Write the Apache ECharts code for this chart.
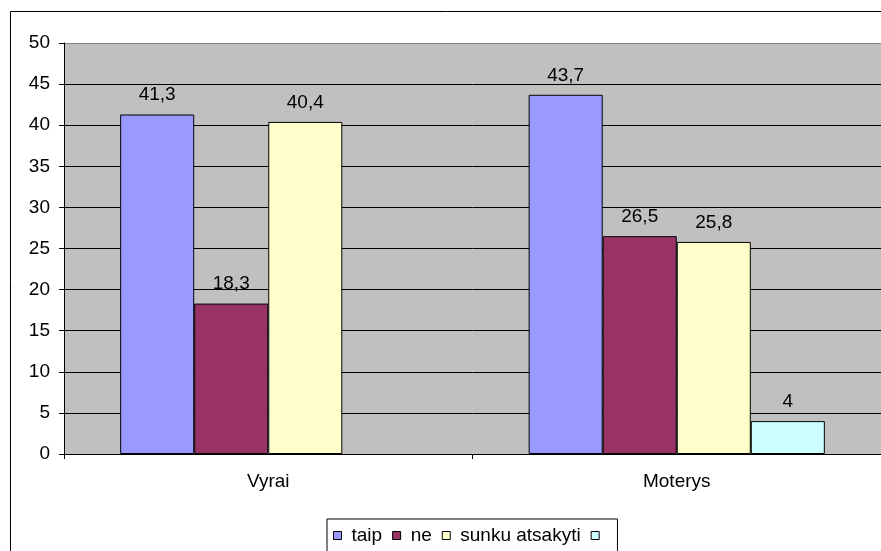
<!DOCTYPE html>
<html>
<head>
<meta charset="utf-8">
<script src="https://cdn.jsdelivr.net/npm/echarts@6/dist/echarts.min.js"></script>
<style>
  html, body { margin: 0; padding: 0; background: #fff; }
  #chart { width: 881px; height: 551px; }
</style>
</head>
<body>
<div id="chart"></div>
<script>
const categories = ['Vyrai', 'Moterys']
const seriesNames = ['taip', 'ne', 'sunku atsakyti', ' ']
const taip = [41.3, 43.7]
const ne = [18.3, 26.5]
const sunku = [40.4, 25.8]
const other = [null, 4]
const yTicks = [0, 5, 10, 15, 20, 25, 30, 35, 40, 45, 50]

const colors = ['#9999FF', '#993366', '#FFFFCC', '#CCFFFF']
const font = '"Liberation Sans", Arial, sans-serif'

const chart = echarts.init(document.getElementById('chart'))

function makeSeries(name, data, color) {
  return {
    name,
    type: 'bar',
    data,
    barGap: 0,
    barCategoryGap: '27.5%',
    itemStyle: { color, borderColor: '#000', borderWidth: 1 },
    label: {
      show: true,
      position: 'top',
      distance: 10,
      color: '#000',
      fontFamily: font,
      fontSize: 19,
      formatter: (p) => String(p.value).replace('.', ',')
    }
  }
}

chart.setOption({
  animation: false,
  textStyle: { fontFamily: font },
  graphic: [{
    type: 'rect',
    shape: { x: 10.5, y: 11.5, width: 1000, height: 1000 },
    style: { fill: 'none', stroke: '#000', lineWidth: 1 },
    z: 100
  }],
  grid: {
    left: 64, top: 43, right: -2, bottom: 97,
    show: true, backgroundColor: '#C0C0C0', borderWidth: 0
  },
  legend: {
    data: seriesNames,
    left: 327, top: 519,
    itemWidth: 8, itemHeight: 8, itemGap: 10,
    padding: [7, 3, 20, 6],
    borderColor: '#000', borderWidth: 1,
    textStyle: { fontSize: 19, color: '#000', fontFamily: font, padding: [0, 0, 0, 5] },
    icon: 'rect',
    itemStyle: { borderColor: '#000', borderWidth: 1 }
  },
  xAxis: {
    type: 'category',
    data: categories,
    axisLine: { lineStyle: { color: '#000' } },
    axisTick: { show: true, length: 5, lineStyle: { color: '#000' } },
    axisLabel: { color: '#000', fontSize: 19, margin: 18, fontFamily: font }
  },
  yAxis: {
    type: 'value',
    min: yTicks[0], max: yTicks[yTicks.length - 1], interval: 5,
    axisLine: { show: true, lineStyle: { color: '#000' } },
    axisTick: { show: true, length: 5, lineStyle: { color: '#000' } },
    axisLabel: { color: '#000', fontSize: 19, margin: 14, fontFamily: font },
    splitLine: {
      lineStyle: {
        color: ['#000', '#000', '#000', '#000', '#000', '#000', '#000', '#000', '#000', '#000', '#808080'],
        width: 1
      }
    }
  },
  series: [
    makeSeries(seriesNames[0], taip, colors[0]),
    makeSeries(seriesNames[1], ne, colors[1]),
    makeSeries(seriesNames[2], sunku, colors[2]),
    makeSeries(seriesNames[3], other, colors[3])
  ]
})
</script>
</body>
</html>
